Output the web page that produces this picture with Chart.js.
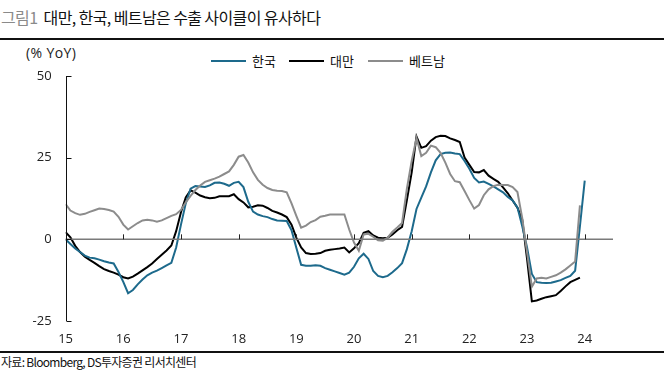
<!DOCTYPE html>
<html>
<head>
<meta charset="utf-8">
<script src="https://cdn.jsdelivr.net/npm/chart.js@4/dist/chart.umd.min.js"></script>
<style>
  html,body{margin:0;padding:0;background:#fff;}
  body{width:664px;height:375px;position:relative;overflow:hidden;font-family:"Noto Sans CJK KR","Noto Sans",sans-serif;}
  #title{position:absolute;left:1px;top:7px;font-size:16px;line-height:20px;letter-spacing:-0.6px;color:#111;white-space:nowrap;}
  #title .fig{color:#8a8a8a;margin-right:6px;}
  #topline{position:absolute;left:0;top:38px;width:664px;height:2px;background:#111;}
  #botline{position:absolute;left:0;top:351px;width:664px;height:2px;background:#111;}
  #source{position:absolute;left:1px;top:354px;font-size:12px;line-height:16px;letter-spacing:-0.7px;color:#111;white-space:nowrap;}
  #ytitle{position:absolute;left:26px;top:43px;font-family:"Open Sans",sans-serif;font-size:14px;letter-spacing:0.4px;color:#222;}
  #legend{position:absolute;top:51px;left:0;width:664px;height:18px;font-size:13px;color:#111;}
  .li{position:absolute;top:0;white-space:nowrap;}
  .li span.ln{display:inline-block;width:35px;height:2px;vertical-align:middle;margin-right:6px;position:relative;top:-1px;}
  #wrap{position:absolute;left:0;top:40px;width:664px;height:310px;}
</style>
</head>
<body>
<div id="title"><span class="fig">그림1</span>대만, 한국, 베트남은 수출 사이클이 유사하다</div>
<div id="topline"></div>
<div id="ytitle">(% YoY)</div>
<div id="legend">
  <div class="li" style="left:211px"><span class="ln" style="background:#1d6a8c"></span>한국</div>
  <div class="li" style="left:289px"><span class="ln" style="background:#000"></span>대만</div>
  <div class="li" style="left:368px"><span class="ln" style="background:#8c8c8c"></span>베트남</div>
</div>
<div id="wrap"><canvas id="c" width="664" height="310"></canvas></div>
<div id="botline"></div>
<div id="source">자료: Bloomberg, DS투자증권 리서치센터</div>
<script>
// Monthly series, Jan 2015 onward (% YoY)
const startYear = 2015;
const korea = [
  0, -1.4, -2.8, -3.9, -5.0, -5.6, -5.8, -6.2, -6.7, -7.1, -7.4, -10.0,
  -13.0, -16.5, -15.5, -13.8, -12.3, -11.0, -10.2, -9.6, -8.8, -8.0, -7.2, -2.5,
  4.5, 11.0, 15.5, 16.3, 16.2, 16.0, 16.5, 17.3, 17.4, 17.0, 16.4, 17.3,
  17.6, 16.0, 11.5, 8.5, 7.6, 7.1, 6.8, 6.2, 5.8, 5.7, 5.6, 2.8,
  -2.6, -7.8, -8.1, -8.1, -7.9, -8.1, -8.8, -9.3, -9.8, -10.3, -10.8, -10.2,
  -8.4, -5.8, -4.4, -6.0, -9.7, -11.2, -11.6, -11.2, -10.1, -8.8, -7.3, -3.0,
  2.5, 9.3, 12.8, 16.2, 20.5, 24.2, 26.1, 26.5, 26.6, 26.3, 26.1, 24.0,
  21.6, 18.8, 17.4, 17.7, 17.0, 16.2, 15.3, 14.4, 13.0, 11.9, 9.8, 4.0,
  -2.5, -10.6, -13.1, -13.3, -13.4, -13.3, -12.9, -12.5, -11.8, -11.2, -9.6, 4.0,
  18.0
];
const taiwan = [
  2.2, 0.6, -2.0, -3.9, -5.3, -6.3, -7.2, -8.2, -9.1, -9.7, -10.2, -10.8,
  -11.6, -12.0, -11.4, -10.5, -9.5, -8.5, -7.4, -6.0, -4.7, -3.4, -1.9, 2.5,
  8.3, 12.8, 15.0, 14.3, 13.4, 12.9, 12.6, 12.7, 13.2, 13.2, 13.2, 13.8,
  12.3, 11.3, 9.8, 10.0, 10.4, 10.3, 9.6, 8.7, 8.2, 7.6, 6.8, 4.5,
  0.5, -2.5, -4.2, -4.5, -4.4, -4.2, -3.5, -3.2, -3.0, -2.8, -2.5, -4.0,
  -2.7, -1.2, 2.0, 2.5, 1.2, 0.5, 0.3, 0.5, 1.5, 2.8, 3.8, 12.0,
  20.5, 31.5, 28.0, 28.5, 30.2, 31.3, 31.7, 31.6, 30.9, 30.4, 29.8, 25.0,
  22.8, 20.6, 20.5, 21.2, 19.5, 18.5, 17.6, 15.9, 14.1, 11.9, 9.7, 6.0,
  -6.0, -19.0, -18.7, -18.2, -17.7, -17.4, -17.1, -15.8, -14.4, -13.1, -12.4, -11.7
];
const vietnam = [
  10.8, 8.8, 8.0, 7.5, 7.8, 8.4, 8.9, 9.4, 9.3, 9.0, 8.5, 6.9,
  4.5, 3.0, 4.0, 5.0, 5.8, 6.0, 5.8, 5.4, 5.8, 6.5, 7.2, 7.7,
  9.0, 11.3, 13.3, 15.1, 16.5, 17.6, 18.1, 18.6, 19.2, 20.0, 20.8, 22.8,
  25.3, 25.8, 23.5, 20.5, 18.2, 16.7, 15.7, 15.1, 14.9, 14.8, 14.4, 11.0,
  7.2, 3.6, 4.2, 5.3, 5.9, 6.9, 7.2, 7.6, 7.6, 7.6, 7.6, 3.0,
  -1.0, -3.5, 1.5, 1.7, 0.8, -0.3, -0.4, 0.5, 2.3, 3.6, 5.0, 15.5,
  24.0, 31.0, 25.5, 26.5, 28.7, 28.2, 26.5, 23.5, 20.0, 17.8, 17.5, 14.8,
  12.0, 9.4, 10.5, 13.5, 15.3, 16.3, 16.7, 16.6, 16.6, 16.0, 14.5, 6.5,
  -4.0, -14.5, -12.0, -11.8, -12.0, -11.5, -11.0, -10.2, -9.2, -8.0, -6.8, 10.4
];
const yTicks = [50, 25, 0, -25];
const xYears = [2015, 2016, 2017, 2018, 2019, 2020, 2021, 2022, 2023, 2024];

const toPts = arr => arr.map((v, i) => ({x: startYear + i / 12, y: v}));

const axisMarks = {
  id: 'axisMarks',
  afterDatasetsDraw(chart) {
    const {ctx, chartArea, scales} = chart;
    const xs = scales.x, ys = scales.y;
    ctx.save();
    const y0 = ys.getPixelForValue(0);
    ctx.strokeStyle = '#7a7a7a';
    ctx.lineWidth = 1.5;
    ctx.beginPath();
    ctx.moveTo(chartArea.left, y0);
    ctx.lineTo(chartArea.right, y0);
    ctx.stroke();
    ctx.strokeStyle = '#222';
    ctx.lineWidth = 1;
    xYears.forEach(yr => {
      if (yr === 2015) return;
      const px = Math.round(xs.getPixelForValue(yr)) + 0.5;
      ctx.beginPath();
      ctx.moveTo(px, y0);
      ctx.lineTo(px, y0 - 5);
      ctx.stroke();
    });
    const ax = Math.round(chartArea.left) + 0.5;
    ctx.strokeStyle = '#111';
    ctx.beginPath();
    ctx.moveTo(ax, ys.getPixelForValue(50));
    ctx.lineTo(ax, ys.getPixelForValue(-25));
    ctx.stroke();
    yTicks.forEach(v => {
      const py = Math.round(ys.getPixelForValue(v)) + 0.5;
      ctx.beginPath();
      ctx.moveTo(ax, py);
      ctx.lineTo(ax + 5, py);
      ctx.stroke();
    });
    ctx.restore();
  }
};

new Chart(document.getElementById('c'), {
  type: 'line',
  data: {
    datasets: [
      {label: '베트남', data: toPts(vietnam), borderColor: '#8c8c8c', borderWidth: 2, pointRadius: 0, tension: 0},
      {label: '한국', data: toPts(korea), borderColor: '#1d6a8c', borderWidth: 2, pointRadius: 0, tension: 0},
      {label: '대만', data: toPts(taiwan), borderColor: '#000000', borderWidth: 2, pointRadius: 0, tension: 0}
    ]
  },
  options: {
    responsive: false,
    animation: false,
    layout: {padding: {top: 36, right: 51, left: 0, bottom: 0}},
    plugins: {legend: {display: false}, tooltip: {enabled: false}},
    scales: {
      x: {
        type: 'linear', min: 2015, max: 2024.49,
        afterBuildTicks: s => { s.ticks = xYears.map(v => ({value: v})); },
        afterFit: s => { s.height = 29; },
        grid: {display: false, drawTicks: false},
        border: {display: false},
        ticks: {padding: 10, color: '#222', font: {family: 'Open Sans', size: 13},
                callback: v => String(Math.round(v) - 2000)}
      },
      y: {
        min: -25, max: 50,
        afterBuildTicks: s => { s.ticks = yTicks.map(v => ({value: v})); },
        afterFit: s => { s.width = 65.6; },
        grid: {display: false, drawTicks: false},
        border: {display: false},
        ticks: {padding: 14, color: '#222', font: {family: 'Open Sans', size: 13}}
      }
    }
  },
  plugins: [axisMarks]
});
</script>
</body>
</html>
